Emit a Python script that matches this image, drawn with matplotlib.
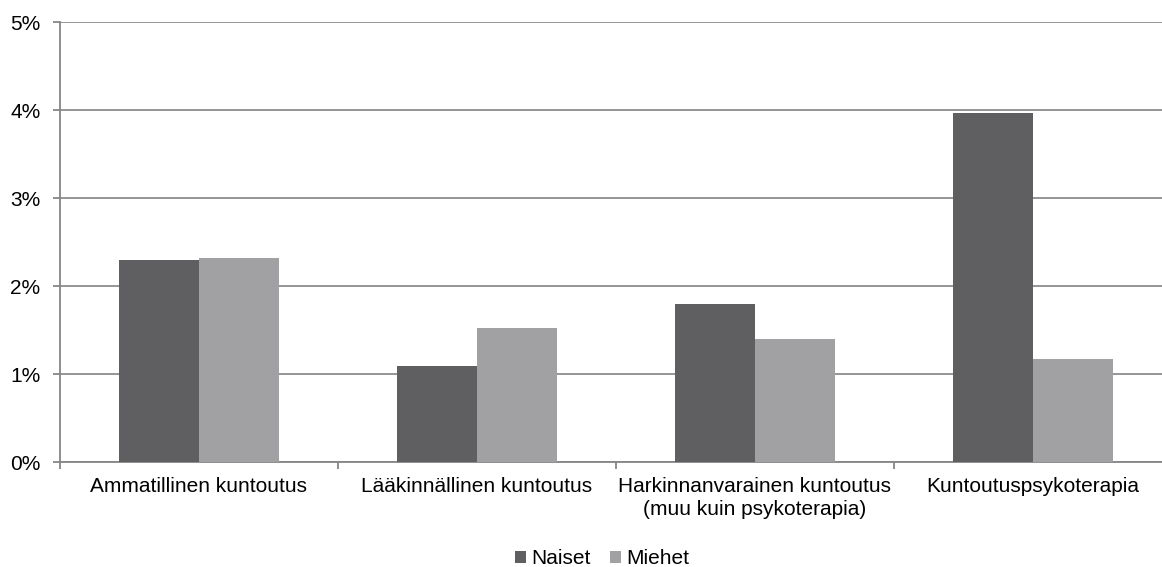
import matplotlib
matplotlib.use("Agg")
import matplotlib.pyplot as plt
import numpy as np
from matplotlib.ticker import FuncFormatter

plt.rcParams['font.family'] = ['Liberation Sans', 'DejaVu Sans']

categories = ["Ammatillinen kuntoutus", "Lääkinnällinen kuntoutus",
              "Harkinnanvarainen kuntoutus\n(muu kuin psykoterapia)", "Kuntoutuspsykoterapia"]
naiset = [2.30, 1.09, 1.79, 3.97]
miehet = [2.32, 1.52, 1.40, 1.17]
series_names = ["Naiset", "Miehet"]
colors = ["#5f5f61", "#a1a1a4"]
yticks = [0, 1, 2, 3, 4, 5]

W, H = 1162, 567
fig = plt.figure(figsize=(W/100, H/100), dpi=100)
left, right, top, bottom = 60, 1172, 22, 462
ax = fig.add_axes([left/W, 1-bottom/H, (right-left)/W, (bottom-top)/H])

x = np.arange(len(categories))
w = 0.286
ax.bar(x - w/2, naiset, w, color=colors[0], label=series_names[0], zorder=3)
ax.bar(x + w/2, miehet, w, color=colors[1], label=series_names[1], zorder=3)

ax.set_xlim(-0.5, len(categories) - 0.5)
ax.set_ylim(0, 5)
ax.set_yticks(yticks)
ax.yaxis.set_major_formatter(FuncFormatter(lambda v, p: f"{int(v)}%"))
ax.yaxis.grid(True, color="#8c8c8c", linewidth=1.3, zorder=0)
ax.set_axisbelow(True)

ax.set_xticks(x)
ax.set_xticklabels(categories, fontsize=15, color="black", linespacing=1.3)
ax.tick_params(axis='x', length=0, pad=10.5)
ax.set_xticks(np.arange(-0.5, len(categories) + 0.5, 1), minor=True)
ax.tick_params(axis='x', which='minor', length=5, color="#868686", width=1.3)
ax.tick_params(axis='y', length=5, color="#868686", width=1.3, labelsize=15, pad=9)

for s in ['top', 'right']:
    ax.spines[s].set_visible(False)
for s in ['left', 'bottom']:
    ax.spines[s].set_color("#868686")
    ax.spines[s].set_linewidth(1.3)

ax.legend(loc='center', bbox_to_anchor=(602/W, 1-559/H), bbox_transform=fig.transFigure,
          ncol=2, frameon=False, fontsize=15, handlelength=0.55, handleheight=0.55,
          handletextpad=0.25, columnspacing=0.9, borderaxespad=0, borderpad=0)

fig.savefig("out.png", dpi=100)
